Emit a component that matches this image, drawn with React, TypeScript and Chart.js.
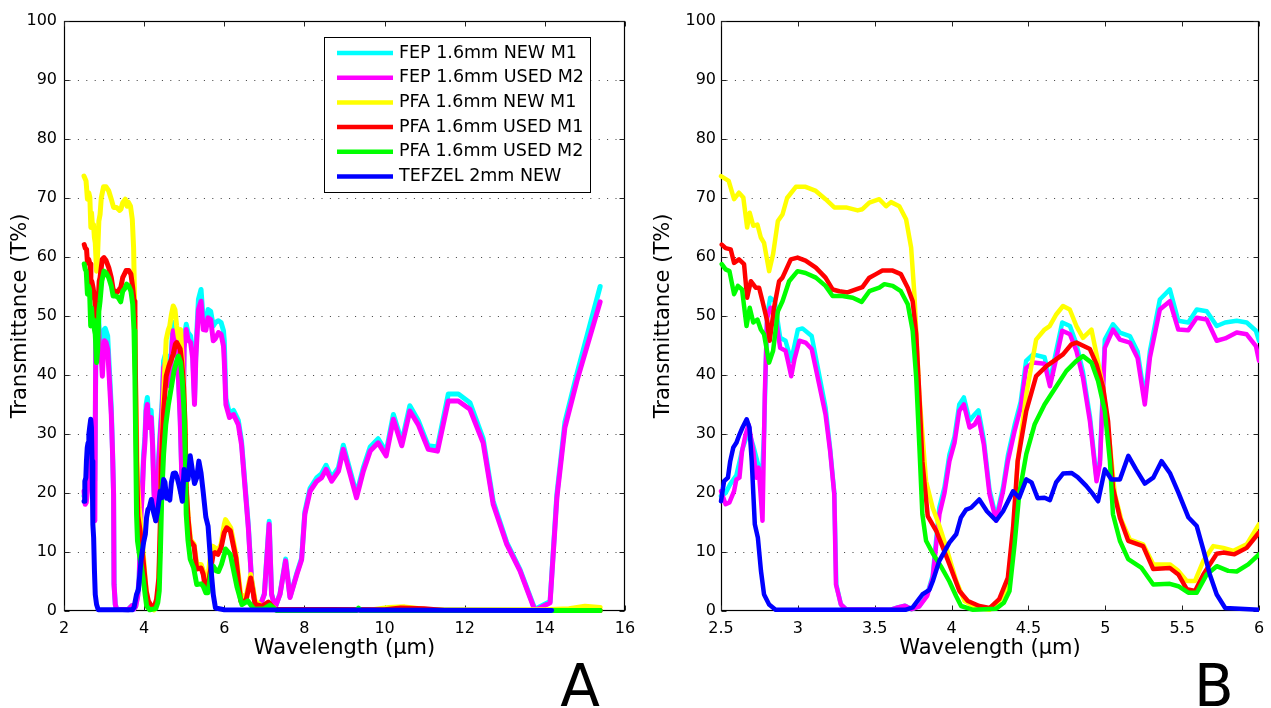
import React, { useEffect, useRef } from 'react';
import { Chart, registerables } from 'chart.js';

Chart.register(...registerables);

const FONT = '"DejaVu Sans", "Liberation Sans", Arial, sans-serif';

// ---------------- data ----------------
const seriesLabels = [
  'FEP 1.6mm NEW M1',
  'FEP 1.6mm USED M2',
  'PFA 1.6mm NEW M1',
  'PFA 1.6mm USED M1',
  'PFA 1.6mm USED M2',
  'TEFZEL 2mm NEW',
];
const seriesColors = ['#00ffff', '#ff00ff', '#ffff00', '#ff0000', '#00ff00', '#0000ff'];

// [wavelength (µm), transmittance (%)]
const fepNewM1: [number, number][] = [
  [2.5, 19.5], [2.53, 20], [2.56, 21.5], [2.6, 23], [2.64, 27.5], [2.68, 30.5], [2.71, 28], [2.74, 25],
  [2.765, 22], [2.78, 30], [2.8, 50], [2.82, 53.1], [2.85, 52.5], [2.885, 46.3], [2.92, 45.8], [2.957, 42.4],
  [3.0, 47.7], [3.03, 47.9], [3.09, 46.6], [3.13, 41.2], [3.18, 34.5], [3.21, 27.5], [3.237, 20], [3.25, 4.5],
  [3.28, 1.1], [3.313, 0.3], [3.6, 0.2], [3.65, 0.6], [3.697, 0.9], [3.74, 0.3], [3.79, 0.8], [3.84, 2.7],
  [3.877, 6], [3.92, 17.5], [3.954, 21], [3.986, 26.5], [4.019, 29.5], [4.05, 35], [4.08, 36.2], [4.117, 32.3],
  [4.15, 33.3], [4.175, 34], [4.21, 29], [4.247, 20.5], [4.29, 15.8], [4.335, 21], [4.366, 26.3], [4.41, 31.5],
  [4.45, 35.5], [4.485, 42.4], [4.53, 43.5], [4.605, 43], [4.64, 39], [4.68, 44], [4.72, 48.9], [4.77, 48.3],
  [4.812, 45.3], [4.855, 40.5], [4.9, 33], [4.943, 22.5], [4.965, 25.5], [4.997, 46], [5.05, 48.6], [5.095, 47.2],
  [5.16, 46.6], [5.21, 44], [5.257, 36], [5.29, 44], [5.355, 52.8], [5.42, 54.5], [5.475, 49.2], [5.54, 48.9],
  [5.595, 51.1], [5.66, 50.8], [5.725, 48.3], [5.78, 48.9], [5.855, 49.2], [5.92, 48.9], [5.98, 47.5], [6.0, 45.8],
  [6.04, 36], [6.13, 33.5], [6.23, 34], [6.35, 32.3], [6.43, 28.8], [6.6, 14.5], [6.68, 5.3], [6.77, 1.1],
  [6.89, 0.8], [7.0, 2.9], [7.12, 15.2], [7.18, 2.9], [7.27, 0.6], [7.39, 2.9], [7.53, 8.8], [7.64, 2.4],
  [7.81, 6.4], [7.93, 9], [8.01, 16.8], [8.14, 20.8], [8.31, 22.6], [8.43, 23.3], [8.54, 24.7], [8.68, 22.6],
  [8.85, 24.3], [8.97, 28.1], [9.14, 23.8], [9.3, 19.8], [9.47, 24.3], [9.64, 27.8], [9.84, 29.2], [10.04, 27],
  [10.22, 33.3], [10.43, 28.7], [10.63, 34.8], [10.84, 32.3], [11.09, 28], [11.32, 27.8], [11.59, 36.8],
  [11.84, 36.8], [12.13, 35.3], [12.46, 29.2], [12.71, 18.6], [13.05, 11.6], [13.38, 7], [13.75, 0.3],
  [14.13, 1.6], [14.3, 19.8], [14.5, 32], [14.8, 40.2], [15.38, 55],
];

const fepUsedM2: [number, number][] = [
  [2.5, 20.3], [2.53, 18.1], [2.555, 18.4], [2.585, 20.3], [2.6, 22.3], [2.62, 22.6], [2.637, 27.1], [2.66, 29.9],
  [2.68, 31.6], [2.71, 27.1], [2.73, 22.6], [2.745, 24.3], [2.77, 15.3], [2.785, 36.7], [2.8, 49.7], [2.822, 51.4],
  [2.85, 50.6], [2.885, 44.6], [2.92, 44.1], [2.935, 42.4], [2.957, 39.8], [2.978, 42.7], [3.01, 45.8], [3.05, 45.5],
  [3.09, 44.4], [3.13, 39.5], [3.18, 33.3], [3.21, 27.1], [3.237, 19.8], [3.248, 4.5], [3.28, 1.1], [3.313, 0.3],
  [3.6, 0.2], [3.65, 0.6], [3.697, 0.9], [3.74, 0.3], [3.79, 0.8], [3.84, 2.5], [3.877, 5.6], [3.921, 16.4],
  [3.954, 20], [3.986, 25.4], [4.019, 28.5], [4.05, 33.9], [4.08, 35], [4.117, 31.1], [4.15, 31.6], [4.175, 32.8],
  [4.21, 28.2], [4.247, 19.8], [4.29, 15.3], [4.335, 20.3], [4.366, 25.4], [4.41, 30.5], [4.45, 34.5], [4.485, 41.2],
  [4.53, 42.1], [4.605, 41.9], [4.64, 38.1], [4.68, 42.7], [4.72, 47.5], [4.77, 46.9], [4.812, 44.1], [4.855, 39.5],
  [4.9, 32.2], [4.943, 22], [4.965, 24.9], [4.997, 44.6], [5.05, 47.7], [5.095, 46], [5.16, 45.5], [5.21, 42.9],
  [5.257, 35], [5.29, 42.9], [5.355, 51.1], [5.42, 52.5], [5.475, 47.7], [5.54, 47.6], [5.595, 49.7], [5.66, 49.4],
  [5.725, 45.8], [5.78, 46.2], [5.855, 47.2], [5.92, 46.9], [5.98, 44.9], [6.0, 42.4], [6.04, 35], [6.13, 32.8],
  [6.23, 33.3], [6.35, 31.6], [6.43, 28.2], [6.6, 14.1], [6.68, 5.1], [6.77, 1.1], [6.89, 0.8], [7.0, 2.8],
  [7.12, 14.7], [7.18, 2.8], [7.27, 0.6], [7.39, 2.8], [7.53, 8.5], [7.64, 2.3], [7.81, 6.2], [7.93, 8.7],
  [8.01, 16.4], [8.14, 20.3], [8.31, 22], [8.43, 22.6], [8.54, 24], [8.68, 22], [8.85, 23.7], [8.97, 27.4],
  [9.14, 23.2], [9.3, 19.2], [9.47, 23.7], [9.64, 27.1], [9.84, 28.5], [10.04, 26.3], [10.22, 32.5], [10.43, 28],
  [10.63, 33.9], [10.84, 31.6], [11.09, 27.4], [11.32, 27.1], [11.59, 35.6], [11.84, 35.6], [12.13, 34.2],
  [12.46, 28.5], [12.71, 18.1], [13.05, 11.3], [13.38, 6.8], [13.75, 0.1], [14.13, 1.4], [14.3, 19.2],
  [14.5, 31.1], [14.8, 39], [15.38, 52.4],
];

const pfaNewM1: [number, number][] = [
  [2.5, 73.7], [2.55, 72.9], [2.585, 69.8], [2.617, 70.9], [2.645, 70.1], [2.67, 65], [2.687, 67.5], [2.71, 65.3],
  [2.737, 65.5], [2.759, 63.3], [2.78, 62.4], [2.813, 57.6], [2.839, 60.5], [2.87, 66.1], [2.9, 67.2], [2.93, 70],
  [2.987, 71.9], [3.05, 71.9], [3.117, 71.2], [3.18, 69.8], [3.237, 68.4], [3.313, 68.4], [3.389, 67.9], [3.42, 68.1],
  [3.465, 69.2], [3.53, 69.8], [3.574, 68.6], [3.606, 69.3], [3.66, 68.6], [3.704, 66.4], [3.737, 61.6], [3.758, 53.7],
  [3.79, 36.7], [3.834, 22], [3.877, 17.5], [3.92, 14.5], [3.965, 10.8], [4.03, 5.1], [4.084, 1.7], [4.16, 0.6],
  [4.247, 0.2], [4.31, 1.7], [4.356, 3.4], [4.4, 11.3], [4.43, 25.4], [4.486, 36.7], [4.55, 46], [4.605, 47.7],
  [4.638, 48.3], [4.682, 50.3], [4.725, 51.7], [4.769, 51.1], [4.812, 48.3], [4.855, 46.3], [4.91, 47.7], [4.943, 43.5],
  [4.986, 37.9], [5.03, 28.2], [5.062, 19.8], [5.106, 15.3], [5.16, 12.1], [5.246, 11.3], [5.312, 7.9], [5.42, 7.9],
  [5.475, 6.8], [5.53, 5.1], [5.584, 5.1], [5.638, 8.5], [5.703, 11], [5.768, 10.7], [5.834, 10.2], [5.92, 11.3],
  [6.0, 14.7], [6.03, 15.5], [6.16, 14.1], [6.29, 9.6], [6.41, 2.8], [6.54, 2.3], [6.66, 6.2], [6.77, 1.7],
  [6.94, 0.8], [7.14, 1.1], [7.3, 0.2], [9.7, 0.2], [10.1, 0.6], [10.5, 0.7], [11.0, 0.3], [11.5, 0.2],
  [14.0, 0.2], [14.6, 0.4], [15.0, 0.8], [15.38, 0.6],
];

const pfaUsedM1: [number, number][] = [
  [2.505, 62.1], [2.53, 61.5], [2.563, 61.3], [2.585, 59], [2.617, 59.6], [2.65, 58.8], [2.67, 53.1], [2.694, 55.9],
  [2.726, 54.8], [2.748, 54.8], [2.77, 52.5], [2.8, 49.2], [2.817, 45.8], [2.845, 51.4], [2.878, 55.9], [2.9, 56.5],
  [2.954, 59.6], [2.998, 59.9], [3.05, 59.4], [3.117, 58.2], [3.18, 56.5], [3.226, 54.5], [3.27, 54.2], [3.323, 54],
  [3.378, 54.5], [3.42, 54.9], [3.465, 56.5], [3.508, 57.1], [3.55, 57.7], [3.617, 57.7], [3.67, 57.1], [3.715, 54.8],
  [3.747, 52.5], [3.77, 46.9], [3.79, 36.7], [3.81, 25.4], [3.845, 16.1], [3.9, 13.6], [3.94, 11], [3.986, 7.9],
  [4.051, 3.4], [4.106, 1.7], [4.18, 0.85], [4.247, 0.5], [4.31, 2], [4.366, 5.6], [4.4, 14.1], [4.43, 25.4],
  [4.486, 33.9], [4.55, 39.8], [4.617, 41.5], [4.682, 42.7], [4.725, 43.5], [4.78, 45.2], [4.812, 45.5], [4.9, 44.4],
  [4.943, 41.8], [4.986, 37.9], [5.018, 32.2], [5.05, 20.9], [5.095, 15.8], [5.149, 11.9], [5.246, 11], [5.312, 7.1],
  [5.42, 7.3], [5.475, 6.2], [5.53, 3.7], [5.584, 3.4], [5.638, 6.2], [5.725, 9.7], [5.768, 9.9], [5.84, 9.6],
  [5.92, 10.7], [6.0, 13.3], [6.06, 14.1], [6.15, 13.6], [6.29, 9], [6.41, 1.7], [6.54, 1.7], [6.66, 5.6],
  [6.77, 1.1], [6.95, 0.8], [7.1, 1.5], [7.25, 0.3], [10.0, 0.2], [10.4, 0.5], [11.0, 0.4], [11.5, 0.1],
  [15.38, 0.1],
];

const pfaUsedM2: [number, number][] = [
  [2.505, 58.8], [2.53, 57.9], [2.555, 57.6], [2.585, 53.7], [2.61, 55.1], [2.637, 54.5], [2.666, 48.3], [2.687, 51.4],
  [2.71, 48.9], [2.737, 49.4], [2.759, 47.7], [2.78, 46.9], [2.813, 42.1], [2.839, 44.1], [2.87, 50.8], [2.9, 52.5],
  [2.943, 55.9], [2.998, 57.6], [3.05, 57.3], [3.117, 56.5], [3.18, 55.1], [3.226, 53.4], [3.29, 53.4], [3.357, 53.1],
  [3.415, 52.4], [3.465, 54.2], [3.53, 54.8], [3.563, 55.4], [3.617, 55.1], [3.67, 54.2], [3.715, 52], [3.747, 47.5],
  [3.77, 39.5], [3.79, 28.2], [3.81, 16.4], [3.834, 11.9], [3.877, 9.8], [3.93, 7.6], [3.986, 5], [4.03, 2.5],
  [4.062, 0.85], [4.14, 0.2], [4.29, 0.4], [4.34, 1.4], [4.377, 3.4], [4.41, 11.3], [4.44, 19.8], [4.486, 26.6],
  [4.54, 31.6], [4.605, 35], [4.682, 38.1], [4.747, 40.7], [4.812, 42.4], [4.855, 43.2], [4.91, 42.1], [4.953, 39],
  [4.997, 33.9], [5.03, 25.4], [5.05, 16.4], [5.095, 11.9], [5.149, 8.8], [5.236, 7.3], [5.312, 4.5], [5.42, 4.6],
  [5.475, 4.2], [5.54, 3.1], [5.595, 3.1], [5.66, 6.2], [5.725, 7.6], [5.8, 6.8], [5.855, 6.7], [5.93, 7.9],
  [6.0, 9.6], [6.03, 10.5], [6.15, 9.6], [6.32, 4], [6.44, 1.1], [6.59, 1.7], [6.74, 0.3], [7.0, 0.4],
  [7.14, 1], [7.3, 0.1], [9.3, 0.1], [9.35, 0.5], [9.4, 0.1], [15.38, 0.1],
];

const tefzelNew: [number, number][] = [
  [2.5, 18.6], [2.52, 22], [2.545, 22.6], [2.56, 25.4], [2.58, 27.7], [2.6, 28.5], [2.62, 29.9], [2.64, 31.1],
  [2.667, 32.5], [2.685, 31.1], [2.7, 25.4], [2.72, 14.7], [2.74, 12.4], [2.76, 6.8], [2.78, 2.8], [2.813, 1.1],
  [2.855, 0.2], [3.7, 0.2], [3.747, 0.6], [3.81, 2.8], [3.856, 3.6], [3.877, 5], [3.92, 8.5], [3.986, 11.6],
  [4.03, 13], [4.06, 15.8], [4.095, 17.2], [4.127, 17.5], [4.18, 18.9], [4.23, 16.9], [4.29, 15.3], [4.335, 16.9],
  [4.4, 20.3], [4.44, 19.2], [4.486, 22.3], [4.52, 21.8], [4.56, 19.1], [4.605, 19.2], [4.64, 18.8], [4.68, 21.8],
  [4.725, 23.3], [4.78, 23.4], [4.82, 22.7], [4.876, 21.2], [4.92, 19.8], [4.953, 18.6], [4.997, 24], [5.04, 22.3],
  [5.095, 22.3], [5.15, 26.3], [5.2, 24], [5.257, 21.6], [5.312, 22.6], [5.366, 25.4], [5.42, 23.4], [5.475, 20.1],
  [5.54, 15.9], [5.595, 14.4], [5.64, 10.2], [5.68, 6.2], [5.725, 2.8], [5.78, 0.5], [6.0, 0.2], [14.17, 0.1],
];

const seriesData = [fepNewM1, fepUsedM2, pfaNewM1, pfaUsedM1, pfaUsedM2, tefzelNew];

// axes
const yMin = 0;
const yMax = 100;
const yStep = 10;
const panelAX = { min: 2, max: 16, step: 2 };
const panelBX = { min: 2.5, max: 6, step: 0.5 };

const xTitle = 'Wavelength (µm)';
const yTitle = 'Transmittance (T%)';

// ---------------- plugins ----------------
const framePlugin = {
  id: 'matlabFrame',
  beforeDatasetsDraw(chart: any) {
    const { ctx, chartArea: a, scales } = chart;
    const xs = scales.x;
    const ys = scales.y;
    const L = Math.round(a.left) + 0.5;
    const R = Math.round(a.right) - 0.5;
    const T = Math.round(a.top) + 0.5;
    const B = Math.round(a.bottom) - 0.5;
    ctx.save();
    ctx.lineWidth = 1;
    ctx.strokeStyle = '#3c3c3c';
    ctx.setLineDash([1, 7.4]);
    ys.ticks.forEach((t: any) => {
      if (t.value <= ys.min || t.value >= ys.max) return;
      const py = Math.round(ys.getPixelForValue(t.value)) + 0.5;
      ctx.beginPath();
      ctx.moveTo(L + 5, py);
      ctx.lineTo(R, py);
      ctx.stroke();
    });
    ctx.setLineDash([]);
    ctx.strokeStyle = '#000';
    ctx.lineWidth = 1.2;
    ctx.strokeRect(L, T, R - L, B - T);
    const tl = 5;
    ctx.lineWidth = 1;
    ctx.strokeStyle = '#222';
    ctx.beginPath();
    xs.ticks.forEach((t: any) => {
      const px = Math.round(xs.getPixelForValue(t.value)) + 0.5;
      ctx.moveTo(px, B);
      ctx.lineTo(px, B - tl);
      ctx.moveTo(px, T);
      ctx.lineTo(px, T + tl);
    });
    ys.ticks.forEach((t: any) => {
      const py = Math.round(ys.getPixelForValue(t.value)) + 0.5;
      ctx.moveTo(L, py);
      ctx.lineTo(L + tl, py);
      ctx.moveTo(R, py);
      ctx.lineTo(R - tl, py);
    });
    ctx.stroke();
    ctx.restore();
  },
};

const boxLegendPlugin = {
  id: 'boxLegend',
  afterDatasetsDraw(chart: any, _args: any, opts: any) {
    if (!opts || !opts.show) return;
    const { ctx } = chart;
    const { left, top, width, height } = opts;
    ctx.save();
    ctx.fillStyle = '#fff';
    ctx.fillRect(left, top, width, height);
    ctx.strokeStyle = '#000';
    ctx.lineWidth = 1;
    ctx.strokeRect(left + 0.5, top + 0.5, width, height);
    ctx.font = `17.5px ${FONT}`;
    ctx.textBaseline = 'middle';
    ctx.textAlign = 'left';
    seriesLabels.forEach((label, i) => {
      const y = top + 16 + i * 24.7;
      ctx.strokeStyle = seriesColors[i];
      ctx.lineWidth = 4.5;
      ctx.lineCap = 'butt';
      ctx.beginPath();
      ctx.moveTo(left + 13, y);
      ctx.lineTo(left + 69, y);
      ctx.stroke();
      ctx.fillStyle = '#000';
      ctx.fillText(label, left + 75, y);
    });
    ctx.restore();
  },
};

const panelLetterPlugin = {
  id: 'panelLetter',
  afterDraw(chart: any, _args: any, opts: any) {
    if (!opts || !opts.text) return;
    const { ctx } = chart;
    ctx.save();
    ctx.fillStyle = '#000';
    ctx.font = `58px ${FONT}`;
    ctx.textAlign = 'center';
    ctx.textBaseline = 'alphabetic';
    ctx.fillText(opts.text, opts.x, opts.y);
    ctx.restore();
  },
};

// ---------------- chart builder ----------------
function makeConfig(p: {
  xr: { min: number; max: number; step: number };
  lineWidth: number;
  yAxisWidth: number;
  padRight: number;
  yTickPad: number;
  yTitlePad: number;
  legend: any;
  letter: any;
  clip: any;
}): any {
  const datasets = seriesLabels.map((label, i) => ({
    label,
    data: seriesData[i].map(([x, y]) => ({ x, y })),
    borderColor: seriesColors[i],
    backgroundColor: seriesColors[i],
    borderWidth: p.lineWidth,
    pointRadius: 0,
    pointHoverRadius: 0,
    tension: 0,
    fill: false,
    borderJoinStyle: 'round',
    borderCapStyle: 'round',
    order: seriesLabels.length - i,
    clip: p.clip,
  }));
  return {
    type: 'line',
    data: { datasets },
    plugins: [framePlugin, boxLegendPlugin, panelLetterPlugin],
    options: {
      animation: false,
      responsive: false,
      maintainAspectRatio: false,
      events: [],
      layout: { padding: { left: 0, right: p.padRight, top: 21, bottom: 47 } },
      plugins: {
        legend: { display: false },
        tooltip: { enabled: false },
        boxLegend: p.legend,
        panelLetter: p.letter,
      },
      scales: {
        x: {
          type: 'linear',
          min: p.xr.min,
          max: p.xr.max,
          grid: { display: false, drawTicks: false },
          border: { display: false },
          ticks: {
            stepSize: p.xr.step,
            padding: 8,
            color: '#000',
            font: { family: FONT, size: 16 },
            maxRotation: 0,
            autoSkip: false,
            callback: (v: any) => String(v),
          },
          title: {
            display: true,
            text: xTitle,
            color: '#000',
            font: { family: FONT, size: 21 },
            padding: { top: 0, bottom: 0 },
          },
          afterFit: (s: any) => {
            s.height = 50;
            s.paddingLeft = 0;
            s.paddingRight = 0;
          },
        },
        y: {
          type: 'linear',
          min: yMin,
          max: yMax,
          grid: { display: false, drawTicks: false },
          border: { display: false },
          ticks: {
            stepSize: yStep,
            padding: p.yTickPad,
            color: '#000',
            font: { family: FONT, size: 16 },
            callback: (v: any) => String(v),
          },
          title: {
            display: true,
            text: yTitle,
            color: '#000',
            font: { family: FONT, size: 21 },
            padding: { top: p.yTitlePad, bottom: 0 },
          },
          afterFit: (s: any) => {
            s.width = p.yAxisWidth;
            s.paddingTop = 0;
            s.paddingBottom = 0;
          },
        },
      },
    },
  };
}

export default function App() {
  const refA = useRef<HTMLCanvasElement | null>(null);
  const refB = useRef<HTMLCanvasElement | null>(null);

  useEffect(() => {
    if (!refA.current || !refB.current) return;
    const chartA = new Chart(
      refA.current,
      makeConfig({
        xr: panelAX,
        lineWidth: 5,
        yAxisWidth: 64,
        padRight: 15,
        yTickPad: 7,
        yTitlePad: 7.5,
        legend: { show: true, left: 324, top: 37, width: 266, height: 155 },
        letter: { text: 'A', x: 580, y: 706 },
        clip: 3,
      })
    );
    const chartB = new Chart(
      refB.current,
      makeConfig({
        xr: panelBX,
        lineWidth: 4.5,
        yAxisWidth: 81,
        padRight: 12,
        yTickPad: 5,
        yTitlePad: 10.5,
        legend: { show: false },
        letter: { text: 'B', x: 574, y: 706 },
        clip: { left: 3, top: 3, right: 0, bottom: 3 },
      })
    );
    return () => {
      chartA.destroy();
      chartB.destroy();
    };
  }, []);

  return (
    <div
      style={{
        position: 'fixed',
        left: 0,
        top: 0,
        width: 1271,
        height: 708,
        background: '#fff',
        overflow: 'hidden',
      }}
    >
      <canvas
        ref={refA}
        width={640}
        height={708}
        style={{ position: 'absolute', left: 0, top: 0, width: 640, height: 708 }}
      />
      <canvas
        ref={refB}
        width={631}
        height={708}
        style={{ position: 'absolute', left: 640, top: 0, width: 631, height: 708 }}
      />
    </div>
  );
}
